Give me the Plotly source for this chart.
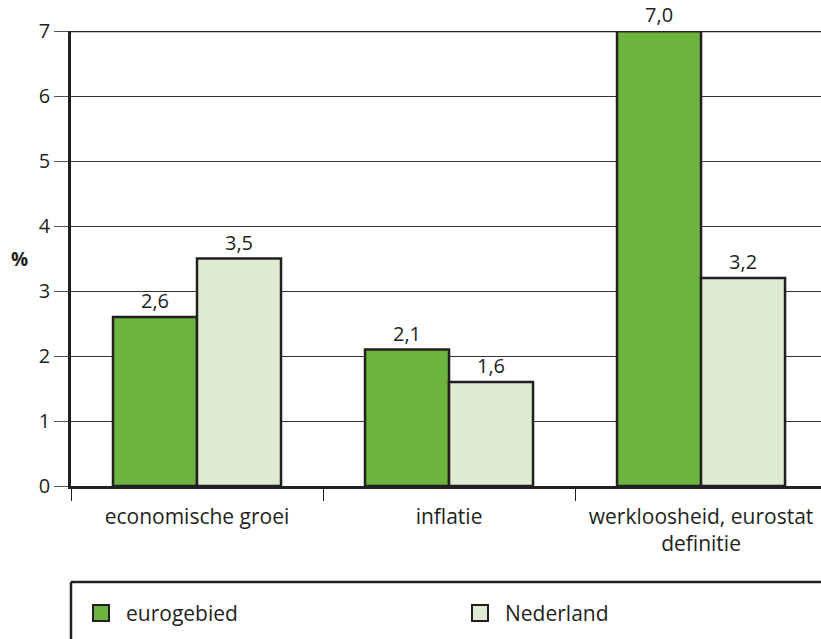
import plotly.graph_objects as go

categories = ["economische groei", "inflatie", "werkloosheid, eurostat<br>definitie"]
eurogebied = [2.6, 2.1, 7.0]
nederland = [3.5, 1.6, 3.2]
series_names = ["eurogebied", "Nederland"]
y_ticks = [0, 1, 2, 3, 4, 5, 6, 7]

DARK = "#231f20"
GREEN = "#6db33f"
LIGHT = "#deead2"
FONT = "Open Sans"
NUM_SIZE = 20
TXT_SIZE = 21

fig = go.Figure()
for name, vals, col in [(series_names[0], eurogebied, GREEN), (series_names[1], nederland, LIGHT)]:
    fig.add_trace(go.Bar(
        name=name, x=categories, y=vals,
        marker=dict(color=col, line=dict(color=DARK, width=2.5)),
        texttemplate="%{y:.1f}", textposition="outside",
        textfont=dict(family=FONT, size=NUM_SIZE, color=DARK),
        cliponaxis=False, showlegend=False,
    ))

fig.update_layout(
    width=821, height=639,
    margin=dict(l=71, r=0, t=31, b=153),
    paper_bgcolor="white", plot_bgcolor="white",
    barmode="group", bargap=1/3, bargroupgap=0,
    separators=",.",
    font=dict(family=FONT, size=NUM_SIZE, color=DARK),
    xaxis=dict(
        range=[-0.5, 2.476], type="category",
        tickson="boundaries", ticks="outside", ticklen=12, tickwidth=1, tickcolor=DARK,
        ticklabelstandoff=10,
        showline=True, linecolor=DARK, linewidth=2.5,
        showgrid=False, tickfont=dict(family=FONT, size=TXT_SIZE, color=DARK),
        automargin=False,
    ),
    yaxis=dict(
        range=[0, 7], tickvals=y_ticks, ticks="outside", ticklen=14, tickwidth=1, tickcolor="#555",
        showline=True, linecolor=DARK, linewidth=2.5,
        showgrid=True, gridcolor="#333", gridwidth=1,
        zeroline=False, tickfont=dict(family=FONT, size=NUM_SIZE, color=DARK),
        automargin=False,
    ),
)

# top frame line at 7
fig.add_shape(type="line", xref="paper", yref="y", x0=0, x1=1, y0=7, y1=7,
              line=dict(color=DARK, width=2.5), layer="above")

# y-axis label
fig.add_annotation(text="<b>%</b>", xref="paper", yref="y", x=-0.0693, y=3.5,
                   showarrow=False, xanchor="center", yanchor="middle",
                   font=dict(family=FONT, size=NUM_SIZE - 1, color=DARK))

# legend box (cut off at right and bottom)
H = 455.0
W = 750.0
def py(p):
    return -(p - 486) / H
def px(p):
    return (p - 71) / W

fig.add_shape(type="line", xref="paper", yref="paper", x0=0, x1=1.01, y0=py(582), y1=py(582),
              line=dict(color=DARK, width=2.5))
fig.add_shape(type="line", xref="paper", yref="paper", x0=0, x1=0, y0=py(582), y1=py(645),
              line=dict(color=DARK, width=2.5))

legend_items = [(series_names[0], GREEN, 93, 124), (series_names[1], LIGHT, 472, 503)]
for name, col, sx, tx in legend_items:
    fig.add_shape(type="rect", xref="paper", yref="paper",
                  x0=px(sx), x1=px(sx + 16), y0=py(605), y1=py(621),
                  fillcolor=col, line=dict(color=DARK, width=2))
    fig.add_annotation(text=name, xref="paper", yref="paper", x=px(tx), y=py(613),
                       showarrow=False, xanchor="left", yanchor="middle",
                       font=dict(family=FONT, size=TXT_SIZE, color=DARK))

fig.write_html("out.html", config={"displayModeBar": False},
               post_script="document.body.style.margin='0';document.body.style.overflow='hidden';")
